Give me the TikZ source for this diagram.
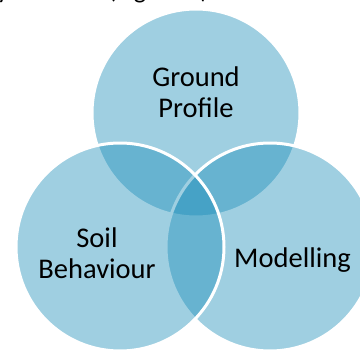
\documentclass[tikz,border=0pt]{standalone}
\usepackage{fontspec}
\setmainfont{Carlito}
\definecolor{venn}{RGB}{23,140,184}
\begin{document}
\begin{tikzpicture}[x=1pt,y=-1pt,
  venncircle/.style={circle, minimum size=208pt, inner sep=0pt, fill=venn, fill opacity=0.41, draw=white, draw opacity=1, line width=3pt},
  lbl/.style={font=\fontsize{28.5}{30.5}\selectfont, align=center, text=black, inner sep=0pt, anchor=base},
  crop/.style={font=\fontsize{26}{28}\selectfont, anchor=base west, inner sep=0pt, text=black}]
\useasboundingbox (0,0) rectangle (360,351);
\fill[white] (0,0) rectangle (360,351);
\clip (0,0) rectangle (360,351);
\node[crop] (capA) at (-3,-2) {y};
\node[crop] (capB) at (108,-2) {(Figure 1)};
\node[venncircle] (top) at (196,113) {};
\node[venncircle] (right) at (270,247) {};
\node[venncircle] (left) at (120,247) {};
\node[lbl] (gp) at (196,117) {Ground\\Profile};
\node[lbl] (sb) at (97,278) {Soil\\Behaviour};
\node[lbl] (mo) at (292.5,267) {Modelling};
\end{tikzpicture}
\end{document}
